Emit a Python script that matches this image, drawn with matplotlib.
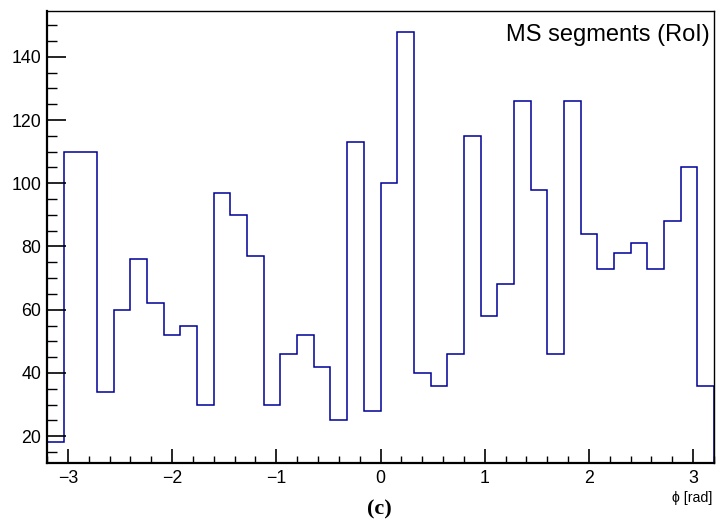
import numpy as np
import matplotlib
matplotlib.use("Agg")
import matplotlib.pyplot as plt
from matplotlib.ticker import MultipleLocator

# histogramme phi: 40 bins de -3.2 a 3.2
bin_edges = np.linspace(-3.2, 3.2, 41)
contagens = [18, 110, 110, 34, 60, 76, 62, 52, 55, 30,
             97, 90, 77, 30, 46, 52, 42, 25, 113, 28,
             100, 148, 40, 36, 46, 115, 58, 68, 126, 98,
             46, 126, 84, 73, 78, 81, 73, 88, 105, 36]
titulo = "MS segments (RoI)"
rotulo_x = "ϕ [rad]"
legenda = "(c)"

plt.rcParams['font.family'] = ['Liberation Sans', 'DejaVu Sans']

fig = plt.figure(figsize=(7.17, 5.24), dpi=100)
ax = fig.add_axes([47 / 717, 61 / 524, 667 / 717, 452 / 524])

ymin, ymax = 11.5, 154.5
ax.stairs(contagens, bin_edges, baseline=ymin, color='#000099', linewidth=1.1)
ax.set_xlim(-3.2, 3.2)
ax.set_ylim(ymin, ymax)

ax.xaxis.set_major_locator(MultipleLocator(1))
ax.xaxis.set_minor_locator(MultipleLocator(0.2))
ax.yaxis.set_major_locator(MultipleLocator(20))
ax.yaxis.set_minor_locator(MultipleLocator(5))
ax.tick_params(axis='both', which='both', direction='in', labelsize=12.8, color='black')
ax.tick_params(axis='y', which='major', length=14, width=1.2, pad=4)
ax.tick_params(axis='y', which='minor', length=7, width=1)
ax.tick_params(axis='x', which='major', length=10, width=1.2, pad=5)
ax.tick_params(axis='x', which='minor', length=5, width=1)

for lado in ['left', 'bottom']:
    ax.spines[lado].set_linewidth(1.6)
for lado in ['top', 'right']:
    ax.spines[lado].set_linewidth(1.0)

ax.text(0.993, 0.972, titulo, transform=ax.transAxes, ha='right', va='top', fontsize=17)
fig.text(712 / 717, 1 - 502 / 524, rotulo_x, ha='right', va='baseline', fontsize=10.2)
fig.text(379 / 717, 1 - 514 / 524, legenda, ha='center', va='baseline', fontsize=16,
         fontweight='bold', family=['Liberation Serif', 'DejaVu Serif'])

fig.savefig("out.png", dpi=100)
